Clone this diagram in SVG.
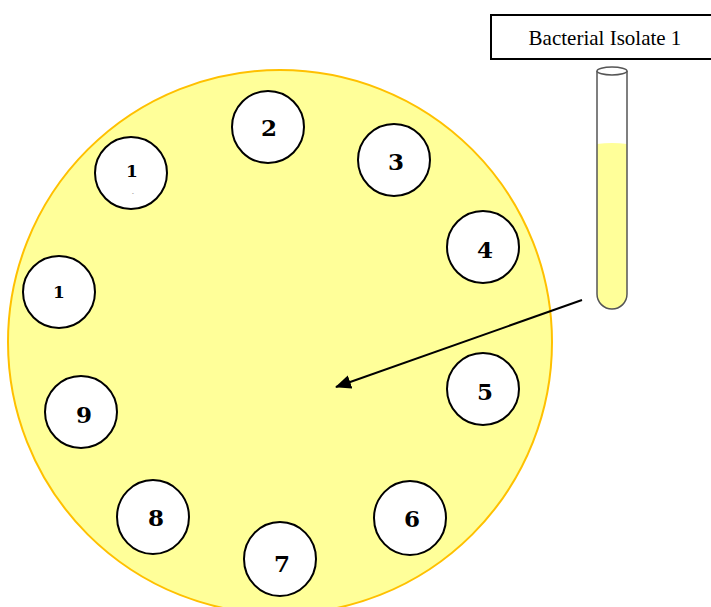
<svg xmlns="http://www.w3.org/2000/svg" width="711" height="607" viewBox="0 0 711 607">
<defs>
<style>
.well{fill:#fff;stroke:#000;stroke-width:2}
.num{font-family:"DejaVu Serif","Liberation Serif",serif;font-weight:bold;font-size:23px;text-anchor:middle;fill:#000}
.small{font-size:17px}
</style>
<marker id="ah2" markerWidth="16" markerHeight="14" refX="15" refY="7" orient="auto" markerUnits="userSpaceOnUse" viewBox="0 0 16 14">
<path d="M0,0 L16,7 L0,14 Z" fill="#000"/>
</marker>
</defs>
<g id="plate"><ellipse cx="280" cy="342" rx="272" ry="272" fill="#ffff99" stroke="#ffc000" stroke-width="2"/></g>
<g id="well-2"><circle class="well" cx="268" cy="127" r="36"/><text class="num" x="269" y="136">2</text></g>
<g id="well-3"><circle class="well" cx="394" cy="160" r="36"/><text class="num" x="396" y="170">3</text></g>
<g id="well-4"><circle class="well" cx="483" cy="247" r="36"/><text class="num" x="485" y="258">4</text></g>
<g id="well-5"><circle class="well" cx="483" cy="389" r="36"/><text class="num" x="485" y="400">5</text></g>
<g id="well-6"><ellipse class="well" cx="410" cy="518" rx="36" ry="37"/><text class="num" x="412" y="527">6</text></g>
<g id="well-7"><ellipse class="well" cx="280" cy="559" rx="36" ry="37"/><text class="num" x="282" y="572">7</text></g>
<g id="well-8"><ellipse class="well" cx="153" cy="517" rx="36" ry="37"/><text class="num" x="156" y="526">8</text></g>
<g id="well-9"><circle class="well" cx="81" cy="412" r="36"/><text class="num" x="84" y="423">9</text></g>
<g id="well-1a"><circle class="well" cx="59" cy="292" r="36"/><text class="num small" x="59" y="298">1</text></g>
<g id="well-1b"><circle class="well" cx="131" cy="173" r="36"/><text class="num small" x="132" y="177">1</text><text x="133" y="195" font-family="DejaVu Sans, sans-serif" font-size="5" text-anchor="middle" fill="#333">-</text></g>
<g id="label"><rect x="491" y="15" width="222" height="44" fill="#fff" stroke="#000" stroke-width="2"/><text x="605" y="45" font-family="Liberation Serif, DejaVu Serif, serif" font-size="21" text-anchor="middle">Bacterial Isolate 1</text></g>
<g id="tube">
<path d="M597,71 L597,294 A15,15 0 0 0 627,294 L627,71 Z" fill="#fff"/>
<path d="M597,144 Q612,142 627,144 L627,294 A15,15 0 0 1 597,294 Z" fill="#ffff99"/>
<path d="M597,71 L597,294 A15,15 0 0 0 627,294 L627,71" fill="none" stroke="#555" stroke-width="1.5"/>
<ellipse cx="612" cy="71" rx="15" ry="4" fill="#fff" stroke="#555" stroke-width="1.5"/>
</g>
<g id="connectors"><line x1="582" y1="300" x2="336" y2="387" stroke="#000" stroke-width="2" marker-end="url(#ah2)"/></g>
</svg>
